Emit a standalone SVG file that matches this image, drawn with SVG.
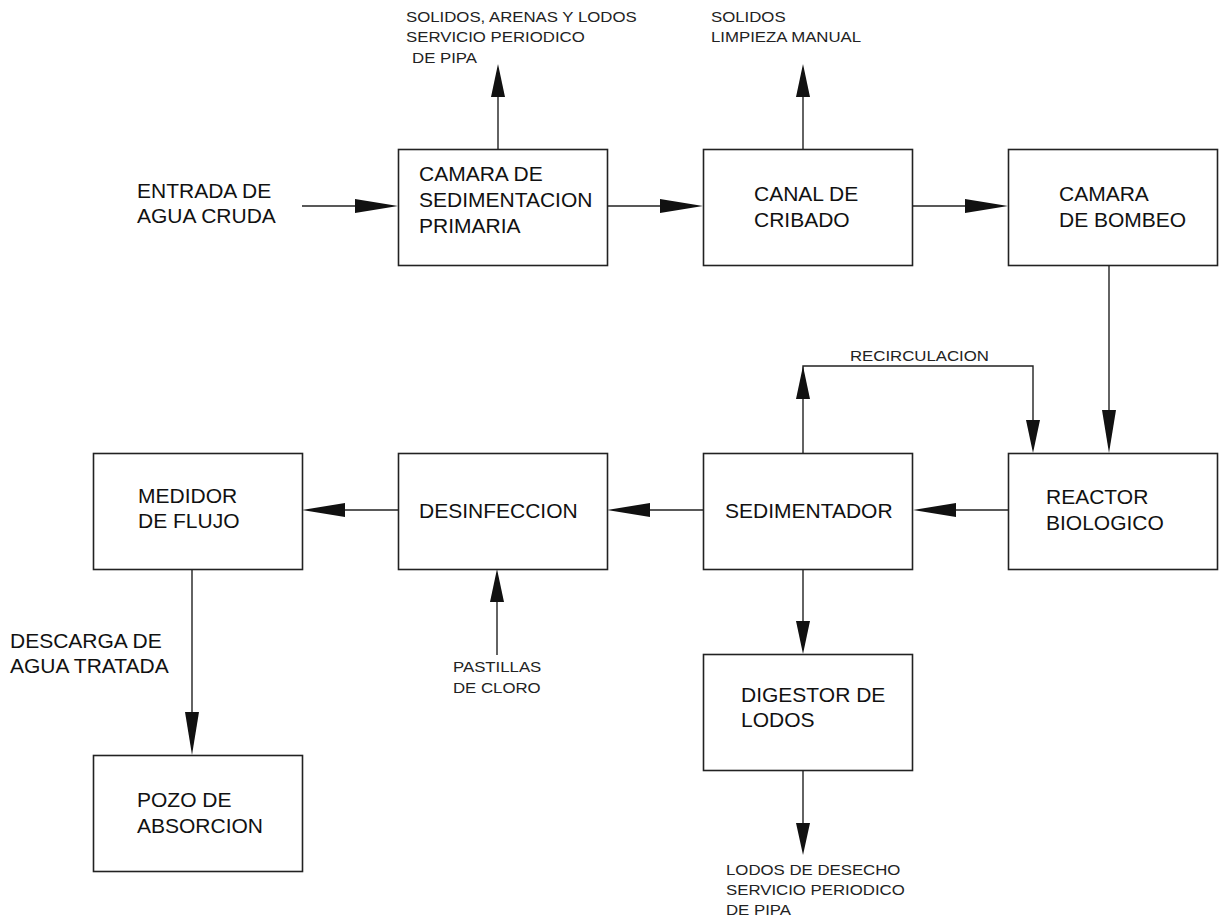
<svg xmlns="http://www.w3.org/2000/svg" width="1220" height="918" viewBox="0 0 1220 918">
<style>
.box{fill:#fff;stroke:#222;stroke-width:1.6}
.ln{fill:none;stroke:#222;stroke-width:1.4}
.ah{fill:#111;stroke:none}
.t{font-family:"Liberation Sans",Arial,sans-serif;font-size:21px;fill:#111}
.s{font-family:"Liberation Sans",Arial,sans-serif;font-size:15px;fill:#222}
</style>
<rect x="0" y="0" width="1220" height="918" fill="#fff"/>
<g id="connectors">
<line class="ln" x1="302" y1="206" x2="358" y2="206"/>
<polygon class="ah" points="398,206 355,199 355,213"/>
<line class="ln" x1="607" y1="206" x2="663" y2="206"/>
<polygon class="ah" points="703,206 660,199 660,213"/>
<line class="ln" x1="912" y1="206" x2="968" y2="206"/>
<polygon class="ah" points="1008,206 965,199 965,213"/>
<line class="ln" x1="498" y1="149" x2="498" y2="94"/>
<polygon class="ah" points="498,64 491,97 505,97"/>
<line class="ln" x1="803" y1="149" x2="803" y2="94"/>
<polygon class="ah" points="803,64 796,97 810,97"/>
<line class="ln" x1="1109" y1="265" x2="1109" y2="413"/>
<polygon class="ah" points="1109,453 1102,410 1116,410"/>
<polyline class="ln" points="803,453 803,366 1033,366 1033,423"/>
<polygon class="ah" points="803,366 796,399 810,399"/>
<polygon class="ah" points="1033,453 1026,420 1040,420"/>
<line class="ln" x1="1008" y1="510" x2="953" y2="510"/>
<polygon class="ah" points="913,510 956,503 956,517"/>
<line class="ln" x1="703" y1="510" x2="647" y2="510"/>
<polygon class="ah" points="607,510 650,503 650,517"/>
<line class="ln" x1="398" y1="510" x2="342" y2="510"/>
<polygon class="ah" points="302,510 345,503 345,517"/>
<line class="ln" x1="497" y1="655" x2="497" y2="599"/>
<polygon class="ah" points="497,569 490,602 504,602"/>
<line class="ln" x1="803" y1="569" x2="803" y2="624"/>
<polygon class="ah" points="803,654 796,621 810,621"/>
<line class="ln" x1="803" y1="770" x2="803" y2="826"/>
<polygon class="ah" points="803,855 796,823 810,823"/>
<line class="ln" x1="192" y1="569" x2="192" y2="715"/>
<polygon class="ah" points="192,755 185,712 199,712"/>
</g>
<g id="n-camara-sed">
<rect class="box" x="398.5" y="149.5" width="209" height="116"/>
<text class="t" x="419" y="181">CAMARA DE</text>
<text class="t" x="419" y="207">SEDIMENTACION</text>
<text class="t" x="419" y="233">PRIMARIA</text>
</g>
<g id="n-canal">
<rect class="box" x="703.5" y="149.5" width="209" height="116"/>
<text class="t" x="754" y="201">CANAL DE</text>
<text class="t" x="754" y="227">CRIBADO</text>
</g>
<g id="n-bombeo">
<rect class="box" x="1008.5" y="149.5" width="209" height="116"/>
<text class="t" x="1059" y="201">CAMARA</text>
<text class="t" x="1059" y="227">DE BOMBEO</text>
</g>
<g id="n-reactor">
<rect class="box" x="1008.5" y="453.5" width="209" height="116"/>
<text class="t" x="1046" y="504">REACTOR</text>
<text class="t" x="1046" y="530">BIOLOGICO</text>
</g>
<g id="n-sedimentador">
<rect class="box" x="703.5" y="453.5" width="209" height="116"/>
<text class="t" x="725" y="518">SEDIMENTADOR</text>
</g>
<g id="n-desinfeccion">
<rect class="box" x="398.5" y="453.5" width="209" height="116"/>
<text class="t" x="419" y="518">DESINFECCION</text>
</g>
<g id="n-medidor">
<rect class="box" x="93.5" y="453.5" width="209" height="116"/>
<text class="t" x="138" y="503">MEDIDOR</text>
<text class="t" x="138" y="528">DE FLUJO</text>
</g>
<g id="n-digestor">
<rect class="box" x="703.5" y="654.5" width="209" height="116"/>
<text class="t" x="741" y="702">DIGESTOR DE</text>
<text class="t" x="741" y="727">LODOS</text>
</g>
<g id="n-pozo">
<rect class="box" x="93.5" y="755.5" width="209" height="116"/>
<text class="t" x="137" y="807">POZO DE</text>
<text class="t" x="137" y="833">ABSORCION</text>
</g>
<g id="labels">
<text class="t" x="137" y="198">ENTRADA DE</text>
<text class="t" x="137" y="223">AGUA CRUDA</text>
<text class="t" x="10" y="648">DESCARGA DE</text>
<text class="t" x="10" y="673">AGUA TRATADA</text>
<text class="s" transform="translate(406,22) scale(1.12,1)"><tspan x="0" y="0">SOLIDOS, ARENAS Y LODOS</tspan><tspan x="0" y="20.5">SERVICIO PERIODICO</tspan><tspan x="5.4" y="41">DE PIPA</tspan></text>
<text class="s" transform="translate(711,22) scale(1.12,1)"><tspan x="0" y="0">SOLIDOS</tspan><tspan x="0" y="20.5">LIMPIEZA MANUAL</tspan></text>
<text class="s" transform="translate(850,361) scale(1.12,1)">RECIRCULACION</text>
<text class="s" transform="translate(453,672) scale(1.12,1)"><tspan x="0" y="0">PASTILLAS</tspan><tspan x="0" y="21">DE CLORO</tspan></text>
<text class="s" transform="translate(726,875) scale(1.12,1)"><tspan x="0" y="0">LODOS DE DESECHO</tspan><tspan x="0" y="20">SERVICIO PERIODICO</tspan><tspan x="0" y="40">DE PIPA</tspan></text>
</g>
</svg>
